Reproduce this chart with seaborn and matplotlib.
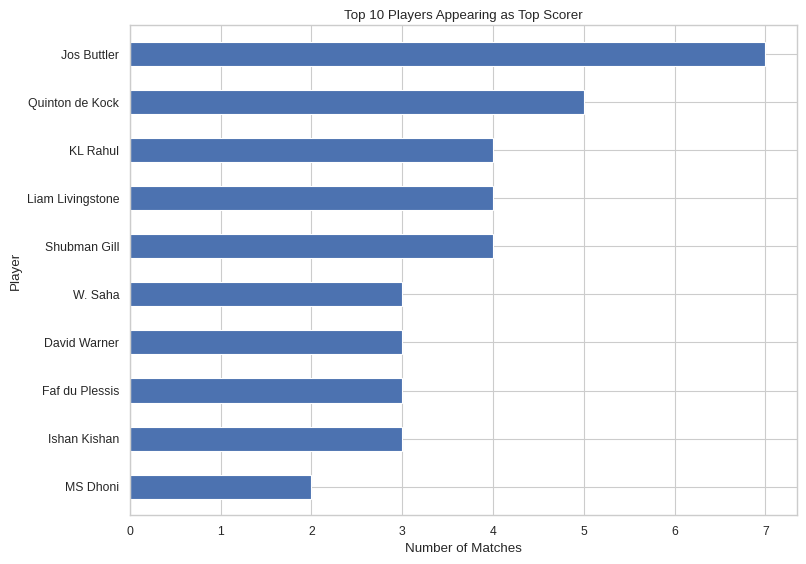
import matplotlib
matplotlib.use("Agg")
import matplotlib.pyplot as plt
import seaborn as sns
import pandas as pd

players = ["Jos Buttler", "Quinton de Kock", "KL Rahul", "Liam Livingstone", "Shubman Gill",
           "W. Saha", "David Warner", "Faf du Plessis", "Ishan Kishan", "MS Dhoni"]
matches = [7, 5, 4, 4, 4, 3, 3, 3, 3, 2]

sns.set_theme(style="whitegrid", font="Liberation Sans")
df = pd.DataFrame({"Player": players, "Matches": matches})
fig, ax = plt.subplots(figsize=(10, 7), dpi=80.6)
sns.barplot(data=df, x="Matches", y="Player", orient="h", color="#4c72b0",
            saturation=1, width=0.5, ax=ax)
ax.yaxis.grid(True)
ax.set_xlim(0, 7.35)
ax.set_ylim(9.6, -0.6)
ax.set_title("Top 10 Players Appearing as Top Scorer", fontsize=12)
ax.set_xlabel("Number of Matches", fontsize=12)
ax.set_ylabel("Player", fontsize=12)
ax.tick_params(labelsize=11)
fig.subplots_adjust(left=0.161, right=0.989, top=0.955, bottom=0.086)
fig.savefig("out.png")
